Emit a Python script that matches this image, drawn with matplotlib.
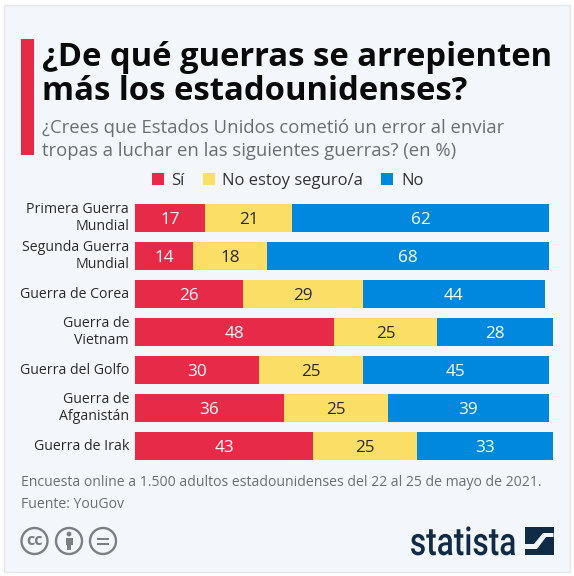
import matplotlib
matplotlib.use('Agg')
import matplotlib.pyplot as plt
from matplotlib.patches import Rectangle, Circle, Polygon, PathPatch
from matplotlib.textpath import TextPath
from matplotlib.font_manager import FontProperties
from matplotlib.transforms import Affine2D

plt.rcParams['font.family'] = ['Open Sans', 'DejaVu Sans']

# Datos
guerras = ['Primera Guerra\nMundial', 'Segunda Guerra\nMundial', 'Guerra de Corea',
           'Guerra de\nVietnam', 'Guerra del Golfo', 'Guerra de\nAfganistán', 'Guerra de Irak']
si = [17, 14, 26, 48, 30, 36, 43]
no_seguro = [21, 18, 29, 25, 25, 25, 25]
no = [62, 68, 44, 28, 45, 39, 33]

series = [('Sí', si), ('No estoy seguro/a', no_seguro), ('No', no)]
colores = ['#e62a47', '#fade66', '#0088de']
colores_texto = ['white', '#2b2b2b', 'white']

W, H = 574, 576
fig = plt.figure(figsize=(W / 100, H / 100), dpi=100, facecolor='white')

# Capa de fondo en pixeles
bg = fig.add_axes([0, 0, 1, 1])
bg.set_xlim(0, W)
bg.set_ylim(H, 0)
bg.axis('off')
bg.add_patch(Rectangle((4, 5), 566, 567, fc='#f3f7fb', ec='#e3e6ea', lw=1))
bg.add_patch(Rectangle((21, 39), 13, 116, fc='#e62a47', ec='none'))

bg.text(42, 57, '¿De qué guerras se arrepienten', fontsize=23.6, fontweight='bold', color='#0a0a0a', va='center')
bg.text(42, 91, 'más los estadounidenses?', fontsize=23.6, fontweight='bold', color='#0a0a0a', va='center')
bg.text(42, 128, '¿Crees que Estados Unidos cometió un error al enviar', fontsize=13.3, color='#6a6f73', va='center')
bg.text(42, 150.5, 'tropas a luchar en las siguientes guerras? (en %)', fontsize=13.3, color='#6a6f73', va='center')

# Leyenda
for x_cuadro, x_texto, (nombre, _), color in zip([152, 203, 381], [171.5, 222, 401], series, colores):
    bg.add_patch(Rectangle((x_cuadro, 173), 12, 12, fc=color, ec='none'))
    bg.text(x_texto, 181, nombre, fontsize=12, color='#333333', va='center')

# Pie
bg.text(21, 483, 'Encuesta online a 1.500 adultos estadounidenses del 22 al 25 de mayo de 2021.',
        fontsize=10.05, color='#6a6f73', va='center')
bg.text(21, 504, 'Fuente: YouGov', fontsize=10.05, color='#6a6f73', va='center')

# Iconos cc
gris = '#7b7f82'
for cx in [34.5, 69, 103]:
    bg.add_patch(Circle((cx, 541), 13, fc='none', ec=gris, lw=1.7))
bg.text(34.5, 541, 'cc', fontsize=11.5, fontweight='bold', color=gris, ha='center', va='center')
bg.add_patch(Circle((69, 534), 2.4, fc=gris, ec='none'))
bg.add_patch(Rectangle((65.5, 537.5), 7, 7.5, fc=gris, ec='none'))
bg.add_patch(Rectangle((67, 544), 4, 6, fc=gris, ec='none'))
bg.add_patch(Rectangle((97, 537.5), 12, 2.4, fc=gris, ec='none'))
bg.add_patch(Rectangle((97, 542.5), 12, 2.4, fc=gris, ec='none'))

# Logo
azul = '#0f2b46'
tp = TextPath((0, 0), 'statista', size=30, prop=FontProperties(family='Roboto', weight='medium'))
caja = tp.get_extents()
esc_x = 104 / caja.width
esc_y = 29 / caja.height
bg.add_patch(PathPatch(tp, fc=azul, ec='none',
                       transform=Affine2D().translate(-caja.x0, 0).scale(esc_x, -esc_y).translate(411, 555) + bg.transData))
bg.add_patch(Rectangle((525, 527), 28.5, 27.5, fc=azul, ec='none'))
bg.add_patch(Polygon([(525, 544), (534, 544), (543, 533), (553.5, 533), (553.5, 537),
                      (546, 537), (537, 549), (525, 549)], fc='#f3f7fb', ec='none'))

# Barras
x0, x1 = 135, 135 + 4.14 * 105
y0, y1 = 199, 465
ax = fig.add_axes([x0 / W, 1 - y1 / H, (x1 - x0) / W, (y1 - y0) / H])
ax.patch.set_alpha(0)
pos = list(range(len(guerras)))
izquierda = [0] * len(guerras)
for (nombre, valores), color, c_txt in zip(series, colores, colores_texto):
    barras = ax.barh(pos, valores, left=izquierda, height=0.74, color=color)
    etiquetas = ax.bar_label(barras, labels=[str(v) for v in valores], label_type='center',
                             color=c_txt, fontsize=12.3)
    for t in etiquetas:
        t.set_verticalalignment('center_baseline')
    izquierda = [a + b for a, b in zip(izquierda, valores)]

ax.set_xlim(0, 105)
ax.set_ylim(6.5, -0.5)
ax.set_yticks(pos)
ax.set_yticklabels(guerras, fontsize=10.2, color='#2b2b2b', ha='right', va='center',
                   multialignment='right', linespacing=1.15)
ax.tick_params(axis='y', length=0, pad=4.3)
ax.set_xticks([])
for s in ax.spines.values():
    s.set_visible(False)

fig.savefig('out.png', dpi=100, facecolor='white')
